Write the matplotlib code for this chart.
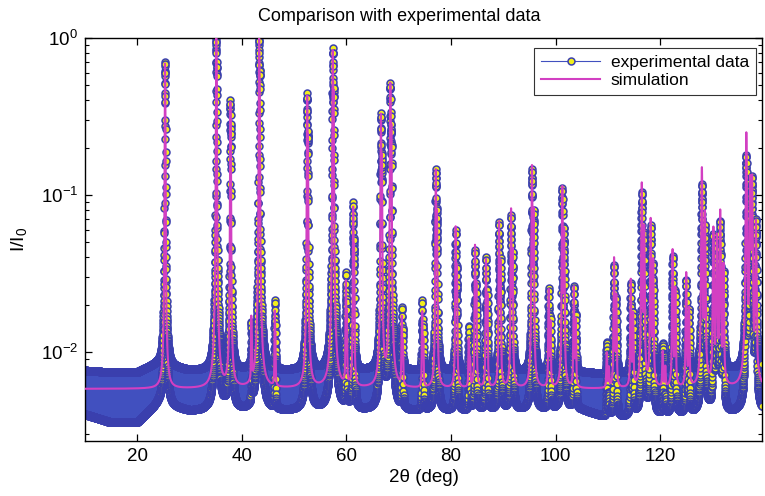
import numpy as np
import matplotlib
matplotlib.use("Agg")
import matplotlib.pyplot as plt
from matplotlib.ticker import LogLocator, FixedLocator, NullFormatter

plt.rcParams['font.family'] = ['Liberation Sans', 'DejaVu Sans']
plt.rcParams['mathtext.default'] = 'regular'

# Reflection list: 2-theta positions (deg), simulated and measured peak-top intensities (I/I0)
peak_pos = [25.3, 35.1, 37.8, 41.8, 43.3, 46.3, 52.5, 57.4, 59.9, 61.3,
            66.6, 68.4, 70.6, 74.5, 77.1, 80.9, 83.4, 84.6, 86.7, 89.2,
            91.5, 95.5, 98.7, 101.3, 103.5, 109.8, 111.2, 114.4, 116.5, 118.2,
            120.5, 122.4, 125.0, 128.0, 130.2, 130.9, 131.5, 136.5, 137.6]
sim_top = [0.68, 1.00, 0.39, 0.016, 1.00, 0.018, 0.43, 0.84, 0.028, 0.084,
           0.33, 0.52, 0.0165, 0.018, 0.146, 0.063, 0.012, 0.048, 0.039, 0.068,
           0.082, 0.155, 0.025, 0.114, 0.026, 0.0098, 0.040, 0.029, 0.12, 0.071,
           0.0099, 0.045, 0.032, 0.15, 0.062, 0.035, 0.066, 0.25, 0.13]
exp_top = [0.68, 0.97, 0.39, 0.012, 1.00, 0.018, 0.43, 0.84, 0.028, 0.083,
           0.32, 0.50, 0.016, 0.018, 0.138, 0.054, 0.012, 0.040, 0.036, 0.062,
           0.069, 0.138, 0.022, 0.104, 0.023, 0.0095, 0.032, 0.024, 0.097, 0.058,
           0.009, 0.036, 0.025, 0.11, 0.050, 0.030, 0.050, 0.17, 0.12]

# Background levels
sim_background = 0.0058
bg_anchor_2theta = [10, 15, 20, 24, 30, 50, 80, 105, 110, 120, 140]
bg_anchor_level = [0.0055, 0.0051, 0.0051, 0.0062, 0.0056, 0.0056, 0.0056, 0.0056, 0.0052, 0.0054, 0.0056]
bg_anchor_spread = [0.14, 0.16, 0.16, 0.13, 0.13, 0.13, 0.13, 0.12, 0.14, 0.14, 0.14]  # half-width in decades

x_ticks = [20, 40, 60, 80, 100, 120]

# Cu K-alpha doublet
KA2_RATIO = 0.5
DLAMBDA = 0.0025


def peak_width(tt):
    return 0.045 + 0.0005 * (np.asarray(tt) - 25.0)


def shape(d, w, eta=0.5):
    u = d / w
    return eta / (1.0 + u ** 2) + (1 - eta) * np.exp(-np.log(2) * u ** 2)


def profile(x, pos, top):
    pos = np.asarray(pos, dtype=float)
    w = peak_width(pos)
    split = np.degrees(2 * np.tan(np.radians(pos / 2)) * DLAMBDA)
    # scale so the K-alpha1 maximum reaches the listed peak top
    amp = np.asarray(top) / (1.0 + KA2_RATIO * shape(split, w))
    d = x[:, None] - pos[None, :]
    lines = shape(d, w[None, :]) + KA2_RATIO * shape(d - split[None, :], w[None, :])
    return (lines * amp[None, :]).sum(axis=1)


# Simulated pattern
x_sim = np.arange(10.0, 140.0, 0.004)
y_sim = sim_background + profile(x_sim, peak_pos, np.array(sim_top) - sim_background)

# Measured pattern, 0.01 deg steps; counting scatter shrinks as sqrt of intensity
x_exp = np.arange(10.0, 140.0, 0.01)
bg_exp = np.interp(x_exp, bg_anchor_2theta, bg_anchor_level)
spread = np.interp(x_exp, bg_anchor_2theta, bg_anchor_spread)
mean_exp = bg_exp + profile(x_exp, peak_pos, np.array(exp_top) - sim_background)
sign = np.where(np.arange(x_exp.size) % 2 == 0, 1.0, -1.0)
y_exp = mean_exp * 10 ** (sign * spread * np.sqrt(bg_exp / mean_exp))

fig = plt.figure(figsize=(7.65, 4.96), dpi=100)
ax = fig.add_axes([85 / 765, 55 / 496, 677 / 765, 403 / 496])

ax.plot(x_exp, y_exp, color='#4150bf', lw=0.8, marker='o', ms=5.0,
        mfc='#f2ef1c', mec='#3a3fae', mew=1.1, label='experimental data', zorder=2)
ax.plot(x_sim, y_sim, color='#d23fc2', lw=1.5, label='simulation', zorder=3)

ax.set_yscale('log')
ax.set_xlim(10, 139.5)
ax.set_ylim(0.0027, 1.0)
ax.xaxis.set_major_locator(FixedLocator(x_ticks))
ax.yaxis.set_major_locator(LogLocator(base=10, numticks=10))
ax.yaxis.set_minor_locator(LogLocator(base=10, subs=np.arange(2, 10), numticks=20))
ax.yaxis.set_minor_formatter(NullFormatter())
ax.tick_params(which='both', direction='in', top=True, right=True, labelsize=13.5)
ax.tick_params(which='major', length=5, width=0.9, pad=5)
ax.tick_params(which='minor', length=3, width=0.8)
for s in ax.spines.values():
    s.set_linewidth(1.0)

ax.set_title('Comparison with experimental data', fontsize=13, x=0.464, pad=12)
ax.set_xlabel('2\u03b8 (deg)', fontsize=13.5, labelpad=3)
ax.set_ylabel('I/I$_0$', fontsize=14, labelpad=8)

leg = ax.legend(loc='upper right', bbox_to_anchor=(0.996, 0.985), fontsize=12.5,
                fancybox=False, edgecolor='#333333', framealpha=1, numpoints=1,
                handlelength=3.4, borderpad=0.4, labelspacing=0.2, handletextpad=0.6,
                borderaxespad=0.2)
leg.get_frame().set_linewidth(0.8)

fig.savefig('out.png', dpi=100)
